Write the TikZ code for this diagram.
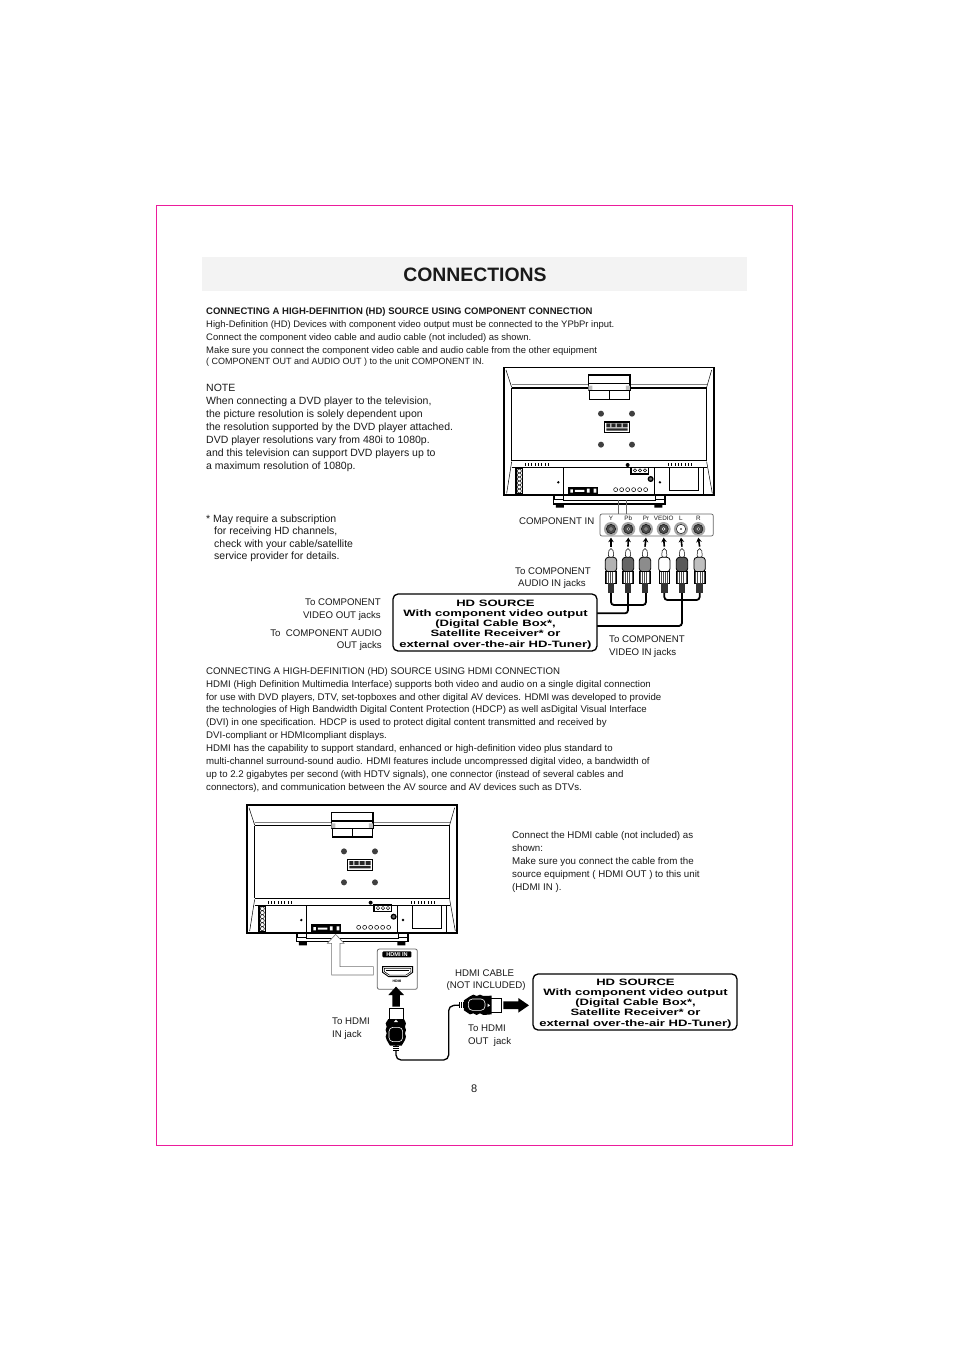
\documentclass[tikz,border=0pt]{standalone}
\usepackage{fontspec}
\setmainfont{Liberation Sans}
\newfontfamily\widefont[FakeStretch=1.42]{Liberation Sans}
\definecolor{mag}{HTML}{EC1C9C}
\definecolor{band}{HTML}{F3F3F3}
\definecolor{ink}{HTML}{1A1A1A}
\newcounter{tl}
\newcommand{\TL}[3]{\stepcounter{tl}\node[txt] (t\thetl) at (#1,#2) {#3};}
\newcommand{\TR}[3]{\stepcounter{tl}\node[txt,anchor=base east] (t\thetl) at (#1,#2) {#3};}
\newcommand{\TC}[3]{\stepcounter{tl}\node[wide] (t\thetl) at (#1,#2) {#3};}
\newcommand{\fsnote}{\fontsize{10.5}{12}\selectfont}
\newcommand{\fstop}{\fontsize{9.45}{12}\selectfont}
\tikzset{
 txt/.style={anchor=base west,inner sep=0pt,text=ink,font=\fontsize{9.65}{12}\selectfont},
 wide/.style={anchor=base,inner sep=0pt,text=black,font=\fontsize{9.2}{11}\widefont\bfseries},
 srcbox/.style={draw=black,line width=1.3pt,rounded corners=5pt},
 tvl/.style={draw=black,line width=0.5pt},
 tvb/.style={draw=black,line width=1.3pt},
 cable/.style={draw=black,line width=1.8pt,rounded corners=3pt},
 blk/.style={-{Stealth[length=4.5pt,width=5.5pt]},draw=black,line width=1.6pt},
}
\usetikzlibrary{arrows.meta}
\newcommand{\TV}[2]{%
\begin{scope}[shift={(#1,#2)},x=0.3333pt,y=-0.3333pt]
 \draw[tvb,line width=1.5pt] (27,408)--(27,22)--(657,22)--(657,408);
 \draw[tvb,line width=1.8pt] (27,406)--(657,406);
 \draw[tvl] (33,30)--(50,82) (650,30)--(635,82);
 \draw[tvl,gray] (50,74)--(280,74) (405,74)--(635,74);
 \draw[tvb] (50,84)--(635,84) (50,84)--(50,302) (635,84)--(635,302);
 \draw[tvb] (50,302)--(635,302);
 \draw[tvl,line width=0.7pt] (50,322)--(635,322);
 \draw[tvl] (50,305)--(35,400) (635,305)--(652,400);
 \draw[tvb,line width=0.8pt] (205,322)--(205,405) (478,322)--(478,405);
 \draw[tvl] (625,322)--(625,405) (62,322)--(62,405);
 \draw[tvl] (64,326) rectangle (82,400);
 \foreach \y in {333,345,357,369,381,393} \draw[tvl] (73,\y) circle (6);
 \foreach \x in {90,100,...,165} \draw[tvl,line width=0.8pt] (\x,310)--(\x,318);
 \foreach \x in {520,530,...,595} \draw[tvl,line width=0.8pt] (\x,310)--(\x,318);
 \draw[tvb,fill=white] (281,45) rectangle (405,70);
 \draw[tvb,fill=white] (280,70) rectangle (405,92);
 \fill[gray!50] (280,77) rectangle (292,92) (393,77) rectangle (405,92);
 \draw[tvb,fill=white] (284,92) rectangle (403,118);
 \draw[tvb] (343,92)--(343,118);
 \foreach \x/\y in {318/161,411/161,318/254,411/254} \fill[black!75] (\x,\y) circle (9);
 \draw[tvb] (328,186) rectangle (403,218);
 \fill[black!85] (334,190) rectangle (398,202) (334,205) rectangle (398,212);
 \fill[white] (346,190) rectangle (349,202) (362,190) rectangle (365,202) (380,190) rectangle (383,202);
 \fill[black] (220,380) rectangle (310,404);
 \fill[white] (226,388) rectangle (234,398) (240,390) rectangle (268,396) (276,386) rectangle (284,398) (296,386) rectangle (304,398);
 \foreach \x in {362,380,398,416,434,452} \draw[tvl] (\x,389) circle (6);
 \draw[tvb] (408,322) rectangle (460,342);
 \foreach \x in {420,435,450} \draw[tvl] (\x,331) circle (5);
 \fill[black] (398,315) circle (6);
 \draw[tvb,fill=black!60] (467,357) circle (7);
 \fill[black] (190,367) circle (4) (495,367) circle (4);
 \draw[tvl,line width=0.7pt] (523,322)--(523,392)--(610,392)--(610,322);
 \draw[tvb] (175,406)--(175,432)--(510,432)--(510,406);
 \draw[tvl] (205,406)--(205,422)--(480,422)--(480,406);
 \draw[tvl,fill=white] (178,406) rectangle (205,418) (480,406) rectangle (507,418);
 \fill[black] (183,432) rectangle (207,443) (478,432) rectangle (502,443);
\end{scope}}
\newcommand{\RCA}[2]{%
 \begin{scope}[shift={(#1,0)}]
 \draw[tvl,fill=white,rounded corners=2pt] (-6,146) -- (6,146) -- (8,172) -- (-8,172) -- cycle;
 \draw[tvl,line width=0.8pt,fill=#2,rounded corners=3pt] (-17,172) rectangle (17,215);
 \draw[tvl,line width=0.8pt,fill=black!70] (-16,215) rectangle (16,250);
 \foreach \x in {-11,-5.5,0,5.5,11} \draw[white,line width=0.4pt] (\x,217)--(\x,248);
 \fill[black!80] (-10,250) rectangle (10,278);
 \end{scope}}
\begin{document}
\begin{tikzpicture}[x=1pt,y=-1pt]
\useasboundingbox (0,0) rectangle (954,1350);
\fill[white] (0,0) rectangle (954,1350);
\draw[mag,line width=0.8pt] (156.5,205) rectangle (792.5,1145);
\fill[band] (202,257) rectangle (747,291);
\node[inner sep=0pt,text=ink,font=\fontsize{19.4}{24}\selectfont\bfseries] (title) at (475,274.5) {CONNECTIONS};

\TL{206}{314}{\fontsize{9.5}{12}\selectfont\bfseries CONNECTING A HIGH-DEFINITION (HD) SOURCE USING COMPONENT CONNECTION}
\TL{206}{327}{\fstop High-Definition (HD) Devices with component video output must be connected to the YPbPr input.}
\TL{206}{340.5}{\fstop Connect the component video cable and audio cable (not included) as shown.}
\TL{206}{353.5}{\fstop Make sure you connect the component video cable and audio cable from the other equipment}
\TL{206}{364.5}{\fontsize{9}{12}\selectfont ( COMPONENT OUT and AUDIO OUT ) to the unit COMPONENT IN.}

\TL{206}{391.5}{\fsnote NOTE}
\TL{206}{404.5}{\fsnote When connecting a DVD player to the television,}
\TL{206}{417.5}{\fsnote the picture resolution is solely dependent upon}
\TL{206}{430.5}{\fsnote the resolution supported by the DVD player attached.}
\TL{206}{443.5}{\fsnote DVD player resolutions vary from 480i to 1080p.}
\TL{206}{456.5}{\fsnote and this television can support DVD players up to}
\TL{206}{469}{\fsnote a maximum resolution of 1080p.}

\TL{206}{522}{\fsnote * May require a subscription}
\TL{214}{534}{\fsnote for receiving HD channels,}
\TL{214}{547}{\fsnote check with your cable/satellite}
\TL{214}{559.5}{\fsnote service provider for details.}

\TV{495}{360}

\begin{scope}[shift={(500,500)},x=0.3333pt,y=-0.3333pt]
 \draw[draw=gray!80!black,line width=0.6pt] (355,0)--(355,42) (380,0)--(380,42);
 \draw[draw=black!60,line width=0.7pt,rounded corners=2pt] (300,42) rectangle (640,108);
 \foreach \x/\c in {333/black!70,385/black!70,438/black!70,491/black!70,543/white,595/black!70}{
  \fill[black!35] (\x,87) circle (21);
  \draw[black,fill=\c] (\x,87) circle (14);
  \fill[white] (\x,87) circle (5);
  \fill[black] (\x,87) circle (2.5);
 }
 \foreach \x/\t in {333/Y,385/Pb,438/Pr,491/VEDIO,543/L,595/R}
  \node[inner sep=0pt,text=ink,font=\fontsize{6.3}{7}\selectfont] (lab\x) at (\x,54) {\t};
 \draw[cable] (333,278)--(333,315)--(438,315)--(438,278);
 \draw[cable] (384,278)--(384,340)--(290,340);
 \draw[cable] (493,278)--(493,300)--(599,300)--(599,278);
 \draw[cable] (546,278)--(546,378)--(290,378);
 \RCA{333}{black!30}
 \RCA{384}{black!60}
 \RCA{435}{black!45}
 \RCA{493}{white}
 \RCA{546}{black!65}
 \RCA{599}{black!25}
 \foreach \x/\xx in {333/333,384/385,435/438,493/491,546/543,599/595}
  \draw[blk] (\x,140)--(\xx,113);
\end{scope}
\TL{519}{524.5}{COMPONENT IN}
\TL{515}{574.5}{To COMPONENT}
\TL{518}{586.5}{AUDIO IN jacks}
\TR{381}{605}{To COMPONENT}
\TR{381}{618}{VIDEO OUT jacks}
\TR{382}{636}{To~ COMPONENT AUDIO}
\TR{382}{648}{OUT jacks}
\TL{609}{642.5}{To COMPONENT}
\TL{609}{655}{VIDEO IN jacks}

\draw[srcbox,fill=white] (393,594) rectangle (597,651);
\TC{495.5}{606}{HD SOURCE}
\TC{495.5}{616}{With component video output}
\TC{495.5}{626}{(Digital Cable Box*,}
\TC{495.5}{636}{Satellite Receiver* or}
\TC{495.5}{647}{external over-the-air HD-Tuner)}

\TL{206}{674}{CONNECTING A HIGH-DEFINITION (HD) SOURCE USING HDMI CONNECTION}
\TL{206}{687}{HDMI (High Definition Multimedia Interface) supports both video and audio on a single digital connection}
\TL{206}{700}{for use with DVD players, DTV, set-topboxes and other digital AV devices. HDMI was developed to provide}
\TL{206}{712.5}{the technologies of High Bandwidth Digital Content Protection (HDCP) as well asDigital Visual Interface}
\TL{206}{725.5}{(DVI) in one specification. HDCP is used to protect digital content transmitted and received by}
\TL{206}{738.5}{DVI-compliant or HDMIcompliant displays.}
\TL{206}{751.5}{HDMI has the capability to support standard, enhanced or high-definition video plus standard to}
\TL{206}{764.5}{multi-channel surround-sound audio. HDMI features include uncompressed digital video, a bandwidth of}
\TL{206}{777}{up to 2.2 gigabytes per second (with HDTV signals), one connector (instead of several cables and}
\TL{206}{790}{connectors), and communication between the AV source and AV devices such as DTVs.}

\TV{238}{797.7}

\TL{512}{838}{\fontsize{9.75}{12}\selectfont Connect the HDMI cable (not included) as}
\TL{512}{851}{\fontsize{9.75}{12}\selectfont shown:}
\TL{512}{864}{\fontsize{9.75}{12}\selectfont Make sure you connect the cable from the}
\TL{512}{877}{\fontsize{9.75}{12}\selectfont source equipment ( HDMI OUT ) to this unit}
\TL{512}{890}{\fontsize{9.75}{12}\selectfont (HDMI IN ).}

\begin{scope}[shift={(320,925)},x=0.3333pt,y=-0.3333pt]
 \draw[draw=black!55,fill=white,line width=0.6pt] (47,28)--(72,55)--(60,55)--(60,125)--(160,125)--(160,150)--(35,150)--(35,55)--(22,55)--cycle;
 \draw[draw=black!60,fill=white,line width=0.8pt,rounded corners=2pt] (172,72) rectangle (292,193);
 \node[fill=black,text=white,inner sep=0pt,minimum width=29pt,minimum height=6pt,font=\fontsize{5.6}{6}\selectfont\bfseries,rounded corners=1pt] (hin) at (231,88) {HDMI IN};
 \draw[black,line width=0.9pt,fill=white] (188,125)--(278,125)--(278,142)--(260,155)--(206,155)--(188,142)--cycle;
 \draw[black,line width=1pt] (198,136)--(268,136);
 \draw[black,line width=0.5pt] (193,130)--(273,130)--(273,140)--(258,150)--(208,150)--(193,140)--cycle;
 \node[inner sep=0pt,text=black,font=\fontsize{3.5}{4}\selectfont\bfseries] (hsm) at (231,168) {HDMI};
 \draw[cable,line width=1.3pt,rounded corners=5pt] (228,360)--(228,405)--(386,405)--(386,242)--(425,240);
 % lower plug
 \draw[black,line width=0.8pt,fill=white] (207,250) rectangle (250,285);
 \fill[black] (205,282)--(252,282)--(258,295)--(255,305)--(258,315)--(255,325)--(258,335)--(255,345)--(245,362)--(210,362)--(200,345)--(197,335)--(200,325)--(197,315)--(200,305)--(197,295)--cycle;
 \draw[white,line width=0.6pt,rounded corners=4pt] (207,307) rectangle (248,350);
 \fill[white] (228,284)--(222,291)--(234,291)--cycle;
 \fill[black] (219,362) rectangle (237,378);
 \draw[white,line width=0.4pt] (219,367)--(237,367) (219,372)--(237,372);
 \fill[black] (217,245)--(217,210)--(205,210)--(228,185)--(252,210)--(240,210)--(240,245)--cycle;
 % right plug
 \draw[black,line width=0.8pt,fill=white] (510,220) rectangle (545,262);
 \fill[black] (515,212)--(515,268)--(490,270)--(480,265)--(470,270)--(460,265)--(450,268)--(432,256)--(432,226)--(450,214)--(460,209)--(470,213)--(480,209)--(490,213)--cycle;
 \fill[black] (416,232) rectangle (432,250);
 \draw[white,line width=0.4pt] (421,232)--(421,250) (426,232)--(426,250);
 \draw[white,line width=0.6pt,rounded corners=4pt] (445,222) rectangle (495,256);
 \fill[white] (510,241)--(503,236)--(503,246)--cycle;
 \fill[black] (550,229)--(595,229)--(595,219)--(627,241)--(595,263)--(595,252)--(550,252)--cycle;
\end{scope}
\TL{455}{976}{HDMI CABLE}
\TL{446.5}{988}{(NOT INCLUDED)}
\TL{332}{1024}{To HDMI}
\TL{332}{1037}{IN jack}
\TL{468}{1031}{To HDMI}
\TL{468}{1044}{OUT~ jack}

\draw[srcbox,fill=white] (533,974) rectangle (737,1030);
\TC{635.5}{985.5}{HD SOURCE}
\TC{635.5}{995.5}{With component video output}
\TC{635.5}{1005.5}{(Digital Cable Box*,}
\TC{635.5}{1015.5}{Satellite Receiver* or}
\TC{635.5}{1026}{external over-the-air HD-Tuner)}

\TL{471}{1092}{\fontsize{11}{12}\selectfont 8}
\end{tikzpicture}
\end{document}
